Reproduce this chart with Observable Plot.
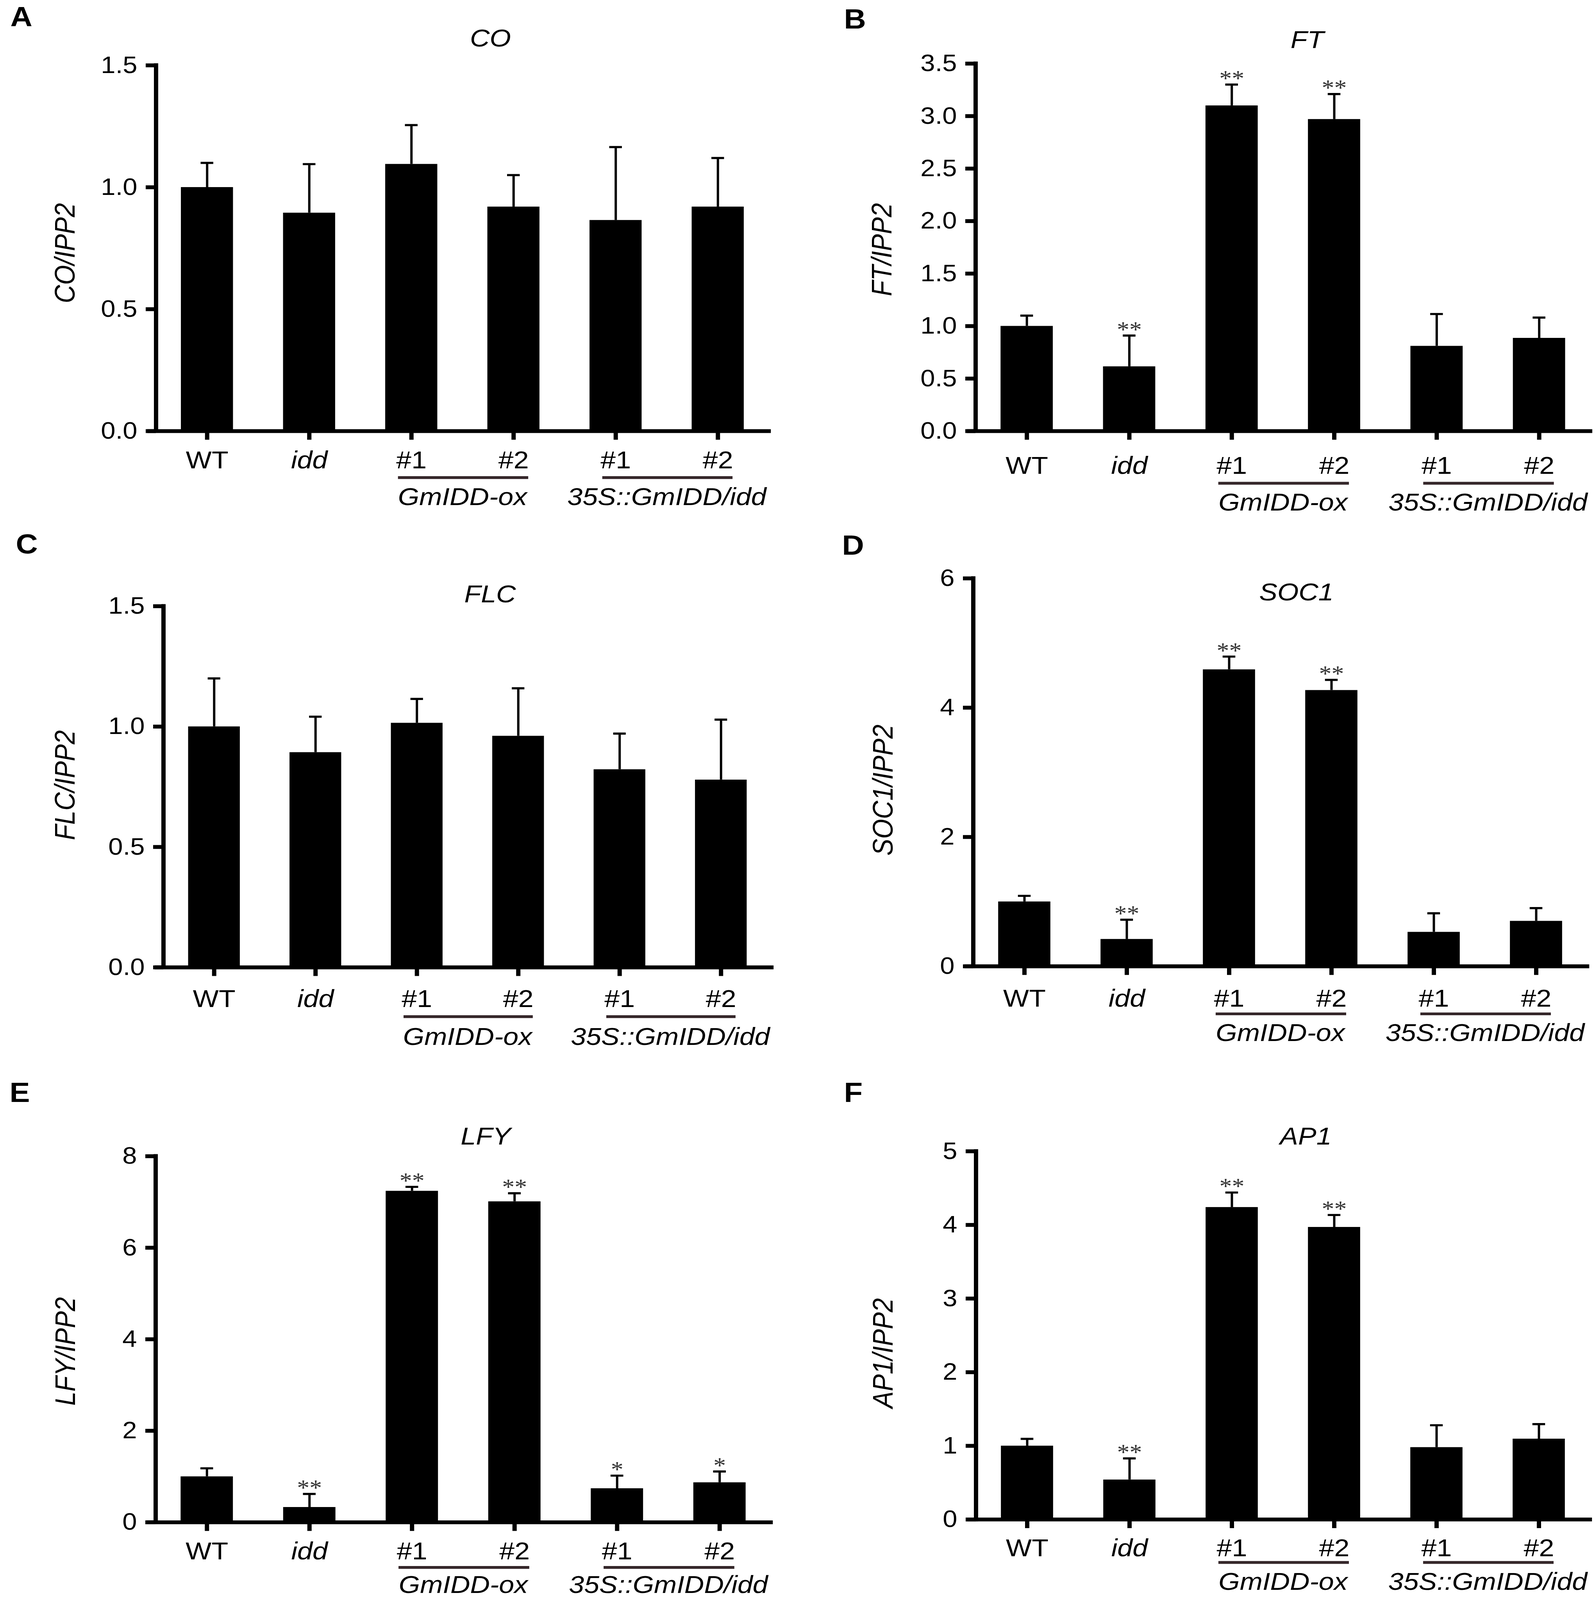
<!DOCTYPE html>
<html>
<head>
<meta charset="utf-8">
<script src="https://cdn.jsdelivr.net/npm/d3@7"></script>
<script src="https://cdn.jsdelivr.net/npm/@observablehq/plot@0.6"></script>
<style>
html, body { margin: 0; padding: 0; background: #fff; overflow: hidden; }
#fig { position: absolute; left: 0; top: 0; width: 4083px; height: 4541px; background: #fff; overflow: hidden; transform-origin: 0 0; }
.panel { position: absolute; }
</style>
</head>
<body>
<div id="fig"></div>
<script>
// ---------- data ----------
const categories = ["WT", "idd", "GmIDD-ox #1", "GmIDD-ox #2", "35S::GmIDD/idd #1", "35S::GmIDD/idd #2"];
const tickLabels = ["WT", "idd", "#1", "#2", "#1", "#2"];
const italicTick = [false, true, false, false, false, false];
const groupNames = ["GmIDD-ox", "35S::GmIDD/idd"];
const groupFirst = [2, 4];
const groupLast = [3, 5];

const coMean = [1.00, 0.895, 1.095, 0.92, 0.865, 0.92];
const coSD   = [0.10, 0.20, 0.16, 0.13, 0.30, 0.20];
const coSig  = ["", "", "", "", "", ""];
const coTicks = [0, 0.5, 1.0, 1.5];

const ftMean = [1.00, 0.615, 3.10, 2.97, 0.81, 0.886];
const ftSD   = [0.10, 0.295, 0.20, 0.24, 0.305, 0.195];
const ftSig  = ["", "**", "**", "**", "", ""];
const ftTicks = [0, 0.5, 1.0, 1.5, 2.0, 2.5, 3.0, 3.5];

const flcMean = [1.00, 0.893, 1.015, 0.961, 0.822, 0.779];
const flcSD   = [0.20, 0.148, 0.10, 0.198, 0.149, 0.25];
const flcSig  = ["", "", "", "", "", ""];
const flcTicks = [0, 0.5, 1.0, 1.5];

const socMean = [1.00, 0.42, 4.59, 4.27, 0.53, 0.70];
const socSD   = [0.09, 0.30, 0.20, 0.16, 0.29, 0.20];
const socSig  = ["", "**", "**", "**", "", ""];
const socTicks = [0, 2, 4, 6];

const lfyMean = [1.00, 0.33, 7.24, 7.01, 0.74, 0.87];
const lfySD   = [0.18, 0.29, 0.09, 0.18, 0.28, 0.24];
const lfySig  = ["", "**", "**", "**", "*", "*"];
const lfyTicks = [0, 2, 4, 6, 8];

const ap1Mean = [1.00, 0.54, 4.24, 3.97, 0.98, 1.095];
const ap1SD   = [0.095, 0.29, 0.20, 0.165, 0.30, 0.20];
const ap1Sig  = ["", "**", "**", "**", "", ""];
const ap1Ticks = [0, 1, 2, 3, 4, 5];

// ---------- panel definitions (data references) ----------
const panelDefs = [
  {letter: "A", gene: "CO",   mean: coMean,  sd: coSD,  sig: coSig,  ticks: coTicks,  fmt: ".1f"},
  {letter: "B", gene: "FT",   mean: ftMean,  sd: ftSD,  sig: ftSig,  ticks: ftTicks,  fmt: ".1f"},
  {letter: "C", gene: "FLC",  mean: flcMean, sd: flcSD, sig: flcSig, ticks: flcTicks, fmt: ".1f"},
  {letter: "D", gene: "SOC1", mean: socMean, sd: socSD, sig: socSig, ticks: socTicks, fmt: "d"},
  {letter: "E", gene: "LFY",  mean: lfyMean, sd: lfySD, sig: lfySig, ticks: lfyTicks, fmt: "d"},
  {letter: "F", gene: "AP1",  mean: ap1Mean, sd: ap1SD, sig: ap1Sig, ticks: ap1Ticks, fmt: "d"}
];

// ---------- layout (pixels, reference page coordinates) ----------
const layouts = [
  {ox: 0,    oy: 0,    w: 2041, h: 1500, axisX: 399,  step: 261.5, top: 185,  bottom: 1223, lab: 106, ul: 132, grp: 210, titleX: 1255, titleY: 131,  ylabX: 167,  ylabY: 718,  letterX: 26,   letterY: 74},
  {ox: 2041, oy: 0,    w: 2042, h: 1500, axisX: 2497, step: 262.3, top: 180,  bottom: 1223, lab: 121, ul: 148, grp: 226, titleX: 3346, titleY: 136,  ylabX: 2258, ylabY: 708,  letterX: 2160, letterY: 80},
  {ox: 0,    oy: 1500, w: 2041, h: 1520, axisX: 418,  step: 259.5, top: 1720, bottom: 2745, lab: 113, ul: 140, grp: 220, titleX: 1254, titleY: 1709, ylabX: 167,  ylabY: 2228, letterX: 40,   letterY: 1570},
  {ox: 2041, oy: 1500, w: 2042, h: 1520, axisX: 2491, step: 262,   top: 1641, bottom: 2742, lab: 115, ul: 135, grp: 212, titleX: 3318, titleY: 1704, ylabX: 2261, ylabY: 2242, letterX: 2155, letterY: 1574},
  {ox: 0,    oy: 3020, w: 2041, h: 1521, axisX: 398,  step: 262.5, top: 3281, bottom: 4320, lab: 105, ul: 128, grp: 200, titleX: 1243, titleY: 3248, ylabX: 168,  ylabY: 3835, letterX: 24,   letterY: 3127},
  {ox: 2041, oy: 3020, w: 2042, h: 1521, axisX: 2498, step: 262,   top: 3267, bottom: 4312, lab: 104, ul: 122, grp: 200, titleX: 3342, titleY: 3248, ylabX: 2261, ylabY: 3840, letterX: 2160, letterY: 3127}
];

const PAGE_W = 4083, PAGE_H = 4541;
const SANS = "'Liberation Sans', Arial, Helvetica, sans-serif";
const SERIF = "'Liberation Serif', 'Times New Roman', serif";
const BAR_HALF = 0.255;
const CAP_HALF = 0.062;
const X_DOMAIN = [-0.5, 5.52];
const TICK_FS = 67, LABEL_FS = 70, TITLE_FS = 70, YLAB_FS = 72, LETTER_FS = 78, STAR_FS = 64;

const fig = document.getElementById("fig");
// fit the full figure into the visible window
const sx = Math.min(1, window.innerWidth / PAGE_W);
const sy = Math.min(1, window.innerHeight / PAGE_H);
fig.style.transform = `scale(${sx}, ${sy})`;

panelDefs.forEach((p, k) => {
  const L = layouts[k];
  const rows = categories.map((c, i) => ({i, key: c, mean: p.mean[i], top: p.mean[i] + p.sd[i], sig: p.sig[i]}));
  const groups = groupNames.map((g, j) => ({name: g, a: groupFirst[j], b: groupLast[j]}));
  const yMax = p.ticks[p.ticks.length - 1];
  const plotW = (X_DOMAIN[1] - X_DOMAIN[0]) * L.step;
  const ml = L.axisX - L.ox;
  const mr = L.w - ml - plotW;
  const mt = L.top - L.oy;
  const mb = L.oy + L.h - L.bottom;
  const normalIdx = rows.filter(d => !italicTick[d.i]).map(d => d.i);
  const italicIdx = rows.filter(d => italicTick[d.i]).map(d => d.i);
  const padX = L.lab - 25 - 0.71 * LABEL_FS;

  const chart = Plot.plot({
    width: L.w,
    height: L.h,
    marginLeft: ml,
    marginRight: mr,
    marginTop: mt,
    marginBottom: mb,
    style: {fontFamily: SANS, fontSize: TICK_FS + "px", color: "#000", background: "#fff", maxWidth: "none", overflow: "visible"},
    x: {type: "linear", domain: X_DOMAIN, label: null},
    y: {type: "linear", domain: [0, yMax], label: null},
    marks: [
      // bars
      Plot.rect(rows, {x1: d => d.i - BAR_HALF, x2: d => d.i + BAR_HALF, y1: () => 0, y2: "mean", fill: "#000"}),
      // error bars
      Plot.ruleX(rows, {x: "i", y1: "mean", y2: "top", stroke: "#000", strokeWidth: 6}),
      Plot.ruleY(rows, {x1: d => d.i - CAP_HALF, x2: d => d.i + CAP_HALF, y: "top", stroke: "#000", strokeWidth: 6}),
      // significance stars
      Plot.text(rows.filter(d => d.sig), {x: "i", y: "top", text: "sig", lineAnchor: "bottom", dy: 4,
        fontFamily: SERIF, fontSize: STAR_FS, fill: "#333"}),
      // axis lines
      Plot.ruleX([X_DOMAIN[0]], {x: d => d, y1: () => 0, y2: () => yMax, stroke: "#000", strokeWidth: 11, strokeLinecap: "square"}),
      Plot.ruleY([0], {y: d => d, insetLeft: -22, stroke: "#000", strokeWidth: 11}),
      // y axis
      Plot.axisY({ticks: p.ticks, tickFormat: p.fmt, tickSize: 26, tickPadding: 22, strokeWidth: 11,
        fontSize: TICK_FS, label: null}),
      // x axis (normal + italic labels)
      Plot.axisX({ticks: normalIdx, tickFormat: i => tickLabels[i], tickSize: 25, tickPadding: padX,
        strokeWidth: 11, fontSize: LABEL_FS, label: null}),
      Plot.axisX({ticks: italicIdx, tickFormat: i => tickLabels[i], tickSize: 25, tickPadding: padX,
        strokeWidth: 11, fontSize: LABEL_FS, fontStyle: "italic", label: null}),
      // group underline + label
      Plot.ruleY(groups, {x1: d => d.a - 0.13, x2: d => d.b + 0.145, y: () => 0, dy: L.ul, stroke: "#35272a", strokeWidth: 8}),
      Plot.text(groups, {x: d => (d.a + d.b) / 2, y: () => 0, text: "name", dy: L.grp, lineAnchor: "bottom",
        fontStyle: "italic", fontSize: LABEL_FS, fill: "#000"}),
      // title
      Plot.text([p.gene], {text: d => d, frameAnchor: "top-left", dx: L.titleX - L.axisX, dy: L.titleY - L.top,
        textAnchor: "middle", lineAnchor: "bottom", fontStyle: "italic", fontSize: TITLE_FS, fill: "#000"}),
      // y label
      Plot.text([p.gene + "/IPP2"], {text: d => d, frameAnchor: "top-left", dx: L.ylabX - L.axisX, dy: L.ylabY - L.top,
        rotate: -90, textAnchor: "middle", lineAnchor: "middle", fontStyle: "italic", fontSize: YLAB_FS, fill: "#000"}),
      // panel letter
      Plot.text([p.letter], {text: d => d, frameAnchor: "top-left", dx: L.letterX - L.axisX, dy: L.letterY - L.top,
        textAnchor: "start", lineAnchor: "bottom", fontWeight: "bold", fontSize: LETTER_FS, fill: "#000"})
    ]
  });

  const div = document.createElement("div");
  div.className = "panel";
  div.style.left = L.ox + "px";
  div.style.top = L.oy + "px";
  div.style.width = L.w + "px";
  div.style.height = L.h + "px";
  div.appendChild(chart);
  fig.appendChild(div);
});
</script>
</body>
</html>
